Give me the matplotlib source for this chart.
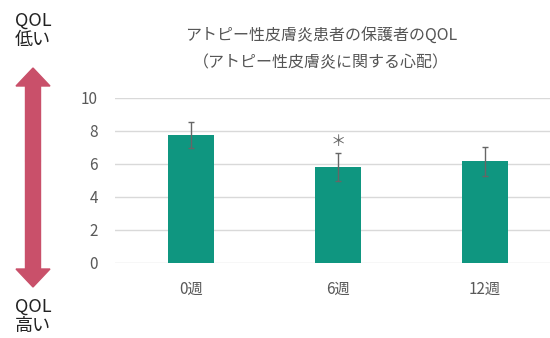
import matplotlib
matplotlib.use("Agg")
import matplotlib.pyplot as plt
from matplotlib.patches import FancyArrow

plt.rcParams['font.family'] = ['Noto Sans CJK JP', 'DejaVu Sans']

weeks = ["0週", "6週", "12週"]
scores = [7.74, 5.80, 6.15]
errors = [0.80, 0.86, 0.87]
sig_marks = ["", "＊", ""]
yticks = [0, 2, 4, 6, 8, 10]

title = "アトピー性皮膚炎患者の保護者のQOL\n（アトピー性皮膚炎に関する心配）"

fig = plt.figure(figsize=(5.5, 3.38), dpi=100)
ax = fig.add_axes([114.5 / 550, 0.2228, 435.5 / 550, 0.488])

x = list(range(len(weeks)))
ax.bar(x, scores, width=0.31, color="#0f9680", zorder=3)
ax.errorbar(x, scores, yerr=errors, fmt="none", ecolor="#666666",
            elinewidth=1.0, capsize=2.5, capthick=1.0, zorder=4)
for xi, s, e, m in zip(x, scores, errors, sig_marks):
    if m:
        ax.text(xi, s + e + 0.15, m, ha="center", va="bottom",
                fontsize=11, color="#666666")

ax.set_xlim(-0.52, 2.443)
ax.set_ylim(0, 10)
ax.set_yticks(yticks)
ax.set_xticks(x)
ax.set_xticklabels(weeks)
ax.grid(axis="y", color="#d9d9d9", linewidth=1.0, zorder=0)
for sp in ax.spines.values():
    sp.set_visible(False)
ax.tick_params(axis="both", length=0, labelsize=11, colors="#595959")
ax.tick_params(axis="y", pad=12)
ax.tick_params(axis="x", pad=13)

fig.text(321 / 550, 1 - 49 / 338, title, ha="center", va="center",
         fontsize=11.5, color="#555555", linespacing=1.85)

# QOL arrow on the left
fig.text(33 / 550, 1 - 30 / 338, "QOL\n低い", ha="center", va="center",
         fontsize=13, color="#222222", linespacing=1.1)
fig.text(33 / 550, 1 - 316 / 338, "QOL\n高い", ha="center", va="center",
         fontsize=13, color="#222222", linespacing=1.1)

arrow_color = "#c9506a"
cx = 33 / 550
shaft_w = 15 / 550
head_w = 34 / 550
for y0, y1 in [(177 / 338, 1 - 68 / 338), (177 / 338, 1 - 287 / 338)]:
    dy = y1 - y0
    head_len = 18 / 338
    fig.patches.append(FancyArrow(cx, y0, 0, dy, width=shaft_w,
                                  head_width=head_w, head_length=head_len,
                                  length_includes_head=True, color=arrow_color,
                                  transform=fig.transFigure, figure=fig))

fig.savefig("out.png", dpi=100, facecolor="white")
